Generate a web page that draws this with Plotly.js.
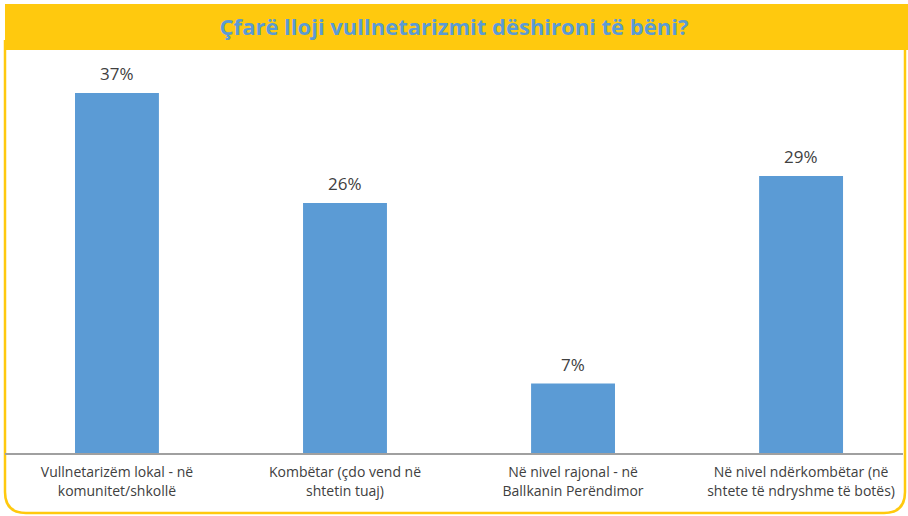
<!DOCTYPE html>
<html>
<head>
<meta charset="utf-8">
<script src="https://cdn.plot.ly/plotly-3.0.1.min.js"></script>
<style>html,body{margin:0;padding:0;background:#fff;}#chart{width:908px;height:516px;}</style>
</head>
<body>
<div id="chart"></div>
<script>
const categories = [
  "Vullnetarizëm lokal - në<br>komunitet/shkollë",
  "Kombëtar (çdo vend në<br>shtetin tuaj)",
  "Në nivel rajonal - në<br>Ballkanin Perëndimor",
  "Në nivel ndërkombëtar (në<br>shtete të ndryshme të botës)"
];
const values = [37.3, 25.9, 7.2, 28.7];
const valueLabels = ["37%", "26%", "7%", "29%"];
const titleText = "Çfarë lloji vullnetarizmit dëshironi të bëni?";

const W = 908, H = 516;
const M = {l: 5, r: 5, t: 50, b: 63};
const PW = W - M.l - M.r, PH = H - M.t - M.b;
const px = x => (x - M.l) / PW;
const py = y => (H - M.b - y) / PH;

const xIdx = categories.map((_, i) => i);

const frame = `M ${px(5)} ${py(40)} L ${px(5)} ${py(492)} Q ${px(5)} ${py(513)} ${px(26)} ${py(513)} L ${px(884)} ${py(513)} Q ${px(905)} ${py(513)} ${px(905)} ${py(492)} L ${px(905)} ${py(40)}`;

const trace = {
  type: 'bar',
  x: xIdx,
  y: values,
  marker: {color: '#5B9BD5'},
  width: 0.368,
  hoverinfo: 'none'
};

const annotations = values.map((v, i) => ({
  x: i, y: v, xref: 'x', yref: 'y',
  text: valueLabels[i], showarrow: false,
  yanchor: 'bottom', yshift: 6,
  font: {family: 'Open Sans, sans-serif', size: 17, color: '#404040'}
}));

const layout = {
  width: W, height: H,
  margin: M,
  paper_bgcolor: '#ffffff',
  plot_bgcolor: '#ffffff',
  showlegend: false,
  title: {
    text: '<b>' + titleText + '</b>',
    x: 0.5, xanchor: 'center',
    y: 1 - 27 / H, yref: 'container', yanchor: 'middle',
    font: {family: 'Open Sans, sans-serif', size: 22, color: '#5B9BD5'}
  },
  xaxis: {
    range: [-0.491, 3.447],
    tickmode: 'array', tickvals: xIdx, ticktext: categories,
    ticks: '', showgrid: false, zeroline: false,
    showline: true, linecolor: '#A0A0A0', linewidth: 1.5,
    ticklabelstandoff: 6,
    tickfont: {family: 'Open Sans, sans-serif', size: 14, color: '#404040'},
    fixedrange: true
  },
  yaxis: {
    range: [0, 41.76],
    visible: false, showgrid: false, zeroline: false,
    fixedrange: true
  },
  shapes: [
    {type: 'path', path: frame, xref: 'paper', yref: 'paper', line: {color: '#FFC90E', width: 2.5}, layer: 'below'},
    {type: 'rect', xref: 'paper', yref: 'paper', x0: px(5), x1: px(908), y0: py(50), y1: py(4), fillcolor: '#FFC90E', line: {width: 0}, layer: 'below'}
  ],
  annotations: annotations
};

Plotly.newPlot('chart', [trace], layout, {displayModeBar: false, staticPlot: true});
</script>
</body>
</html>
